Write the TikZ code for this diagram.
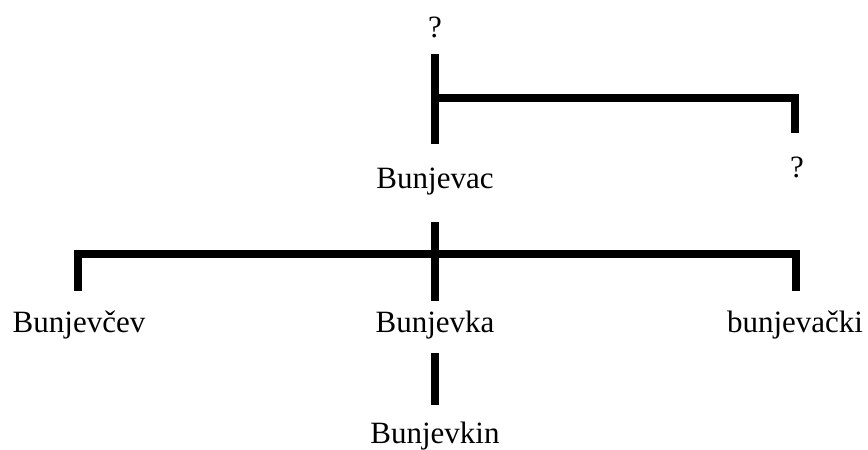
\documentclass[tikz,border=0pt]{standalone}
\usepackage{fontspec}
\setmainfont{Liberation Serif}
\usetikzlibrary{calc}
\begin{document}
\begin{tikzpicture}[x=1pt,y=-1pt,
  lbl/.style={font=\fontsize{31}{36}\selectfont, inner sep=0pt, anchor=base},
  bar/.style={line width=8pt, line cap=butt, line join=miter}]
\useasboundingbox (0,0) rectangle (868,450);

% word labels
\node[lbl] (q1)         at (435,37)  {?};
\node[lbl] (bunjevac)   at (435,188) {Bunjevac};
\node[lbl] (q2)         at (797,177) {?};
\node[lbl] (bunjevcev)  at (79,332)  {Bunjevčev};
\node[lbl] (bunjevka)   at (435,332) {Bunjevka};
\node[lbl] (bunjevacki) at (795,332) {bunjevački};
\node[lbl] (bunjevkin)  at (435,443) {Bunjevkin};

% upper link: ? -- Bunjevac, with a branch to the second ?
\draw[bar] ($(q1.base)+(0,17)$) -- ($(bunjevac.base)+(0,-44)$);
\coordinate (up) at ($(bunjevac.base)+(0,-90.5)$);
\draw[bar] (up) -| ($(q2.base)+(-2,-44)$);

% lower bracket: Bunjevac -> derived forms
\coordinate (mid) at ($(bunjevka.base)+(0,-78)$);
\draw[bar] ($(bunjevac.base)+(0,34)$) -- ($(bunjevka.base)+(0,-31)$);
\draw[bar] ($(bunjevcev.base)+(-1,-41)$) |- (mid) -| ($(bunjevacki.base)+(0.5,-41)$);

% Bunjevka -- Bunjevkin
\draw[bar] ($(bunjevka.base)+(0,21)$) -- ($(bunjevkin.base)+(0,-38)$);
\end{tikzpicture}
\end{document}
